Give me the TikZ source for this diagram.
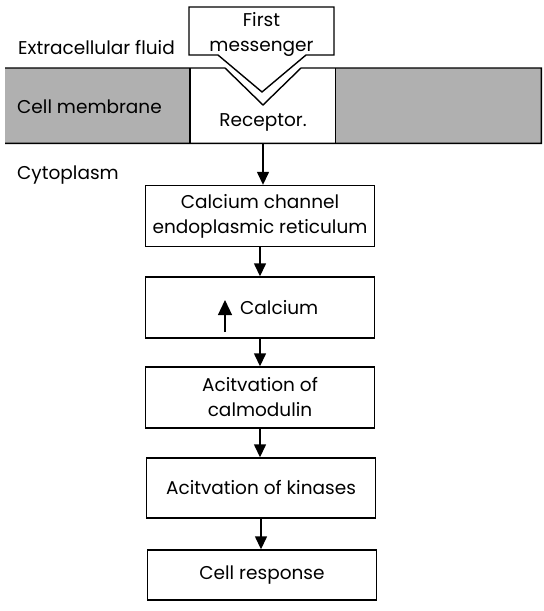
\documentclass[tikz,border=0pt]{standalone}
\usepackage{fontspec}
\setmainfont{Poppins}
\usetikzlibrary{arrows.meta, positioning, calc}
\definecolor{membranegray}{RGB}{176,176,176}
\newcommand{\bodyfont}{\fontsize{18.5}{25}\selectfont}

\begin{document}
\begin{tikzpicture}[x=1pt, y=-1pt,
    stepbox/.style={draw, line width=1.4pt, minimum width=229pt, minimum height=61pt, align=center, inner sep=0pt, font=\bodyfont},
    lbl/.style={anchor=west, inner sep=0pt, font=\bodyfont},
    arr/.style={-{Triangle[width=12pt,length=13pt]}, line width=1.4pt}
]
\useasboundingbox (0,0) rectangle (544,611);

% membrane
\node[fill=membranegray, minimum width=185pt, minimum height=75pt, inner sep=0pt, anchor=north west] (memL) at (5,68) {};
\node[fill=white, minimum width=145pt, minimum height=75pt, inner sep=0pt, anchor=north west] (receptor) at (190,68) {};
\node[fill=membranegray, minimum width=206pt, minimum height=75pt, inner sep=0pt, anchor=north west] (memR) at (335,68) {};
\draw[line width=1.4pt] (memL.north west) -- (225,68) -- (263,105) -- (301,68) -- (memR.north east)
    -- (memR.south east) -- (memL.south west);
\draw[line width=1.4pt] (receptor.north west) -- (receptor.south west);
\draw[line width=1.4pt] (receptor.north east) -- (receptor.south east);

% first messenger
\draw[line width=1.4pt, fill=white] (189,7) -- (334,7) -- (334,55) -- (306,55) -- (262,92)
    -- (218,55) -- (189,55) -- cycle;
\node[align=center, inner sep=0pt, font=\bodyfont] (msg) at (261.5,34) {First\\messenger};
\node[inner sep=0pt, font=\bodyfont] (rectxt) at (263,122) {Receptor.};

\node[lbl] (extra) at (18,48) {Extracellular fluid};
\node[lbl] (memtxt) at (17,107) {Cell membrane};
\node[lbl] (cyto) at (17,175) {Cytoplasm};

% cascade
\node[stepbox] (chan) at (260,216) {Calcium channel\\endoplasmic reticulum};
\node[stepbox] (calc) at (260,307.5) {};
\node[lbl] (calctxt) at (240,308) {Calcium};
\coordinate (upfoot) at (225,332);
\coordinate (uptop) at (225,300);
\draw[-{Triangle[width=14pt,length=15pt]}, line width=1.2pt] (upfoot) -- (uptop);
\node[stepbox] (calm) at (260,397.5) {Acitvation of\\calmodulin};
\node[stepbox, minimum height=60pt] (kin) at (261,488) {Acitvation of kinases};
\node[stepbox, minimum height=50pt] (resp) at (262,575) {Cell response};

\draw[arr] (rectxt |- receptor.south) -- (rectxt |- chan.north);
\draw[arr] (chan) -- (calc);
\draw[arr] (calc) -- (calc |- calm.north);
\draw[arr] (calm) -- (calm |- kin.north);
\draw[arr] (kin) -- (kin |- resp.north);
\end{tikzpicture}
\end{document}
